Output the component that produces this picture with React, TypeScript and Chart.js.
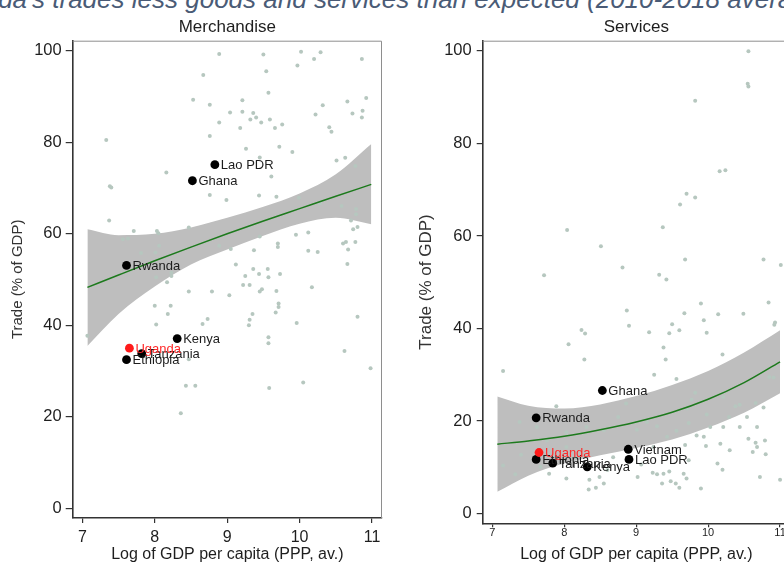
import React, { useEffect, useRef } from "react";
import { Chart, registerables } from "chart.js";

Chart.register(...registerables);

// ---------- shared ----------
const xTicks = [7, 8, 9, 10, 11];
const yTicks = [0, 20, 40, 60, 80, 100];
const bannerText = "Uganda's trades less goods and services than expected (2010-2018 average)";
const xTitle = "Log of GDP per capita (PPP, av.)";
const yTitle = "Trade (% of GDP)";

// ---------- Merchandise ----------
const merchX = [
  8.89, 9.5, 10.02, 10.29, 10.2, 9.97, 10.86, 9.54, 8.67, 9.57, 8.53, 8.76, 9.21, 10.92, 10.66, 10.32,
  9.04, 9.21, 9.36, 9.4, 9.32, 9.47, 9.59, 8.89, 9.18, 9.66, 9.76, 10.22, 10.73, 10.87, 10.86, 10.41,
  10.44, 7.33, 8.76, 9.26, 9.72, 9.9, 9.45, 10.51, 10.63, 10.77, 8.16, 9.61, 7.38, 7.4, 8.76, 8.99,
  9.44, 9.68, 9.99, 10.28, 10.58, 10.78, 10.78, 7.37, 10.71, 10.8, 10.74, 7.71, 8.03, 8.05, 7.56, 7.63,
  8.47, 9.3, 9.45, 9.95, 10.12, 10.6, 10.64, 10.77, 8.06, 8.89, 9.7, 9.7, 9.05, 9.37, 10.12, 10.25,
  10.67, 7.81, 8.01, 10.66, 9.12, 9.36, 9.44, 9.56, 9.57, 8.02, 8.23, 8.23, 8.17, 9.25, 9.73, 9.22,
  9.31, 9.48, 9.45, 9.68, 10.17, 8.47, 8.79, 9.03, 8.0, 8.22, 8.18, 9.71, 9.71, 9.67, 9.35, 9.31,
  8.73, 8.66, 8.02, 9.3, 9.96, 10.8, 7.07, 9.57, 9.57, 10.62, 8.47, 10.98, 8.43, 8.56, 9.58, 10.05, 8.36,
];
const merchY = [
  99.3, 99.2, 99.8, 99.7, 98.2, 96.8, 98.2, 95.5, 94.7, 90.8, 89.3, 88.2, 89.2, 89.7, 88.9, 88.1,
  86.5, 86.7, 86.4, 85.4, 85.0, 84.3, 85.0, 84.3, 83.1, 83.1, 83.9, 86.1, 86.3, 86.9, 85.4, 83.3,
  82.3, 80.5, 81.4, 78.6, 79.0, 77.9, 76.7, 76.0, 76.6, 74.8, 73.4, 72.5, 70.4, 70.1, 68.5, 67.4,
  68.4, 68.1, 67.9, 66.7, 66.1, 65.4, 64.3, 62.9, 62.9, 61.5, 61.0, 60.6, 60.6, 60.1, 58.8, 59.0,
  61.4, 61.4, 59.4, 59.8, 60.3, 57.9, 58.2, 58.2, 57.4, 57.4, 57.9, 57.1, 56.7, 56.4, 56.3, 56.0,
  56.6, 55.8, 55.9, 53.4, 53.3, 52.3, 51.2, 52.3, 50.5, 50.5, 50.8, 51.5, 49.4, 50.8, 51.2, 48.8,
  48.8, 47.9, 47.4, 47.5, 48.3, 47.4, 47.4, 46.6, 44.3, 44.3, 42.5, 44.8, 44.0, 42.8, 42.5, 41.2,
  41.4, 40.3, 40.2, 40.0, 40.5, 41.9, 37.7, 37.4, 36.1, 34.4, 32.6, 30.6, 26.8, 26.8, 26.3, 27.5, 20.8,
];
const merchFitX = [7.07, 7.5, 8.0, 8.5, 9.0, 9.5, 10.0, 10.5, 10.99];
const merchFit = [48.3, 51.0, 54.1, 57.1, 60.0, 62.8, 65.5, 68.2, 70.8];
const merchUpper = [61.0, 59.7, 60.0, 61.4, 63.5, 65.9, 68.8, 73.0, 79.6];
const merchLower = [35.5, 42.5, 48.5, 53.3, 56.6, 59.6, 62.2, 63.5, 62.1];
const merchNames = ["Lao PDR", "Ghana", "Rwanda", "Kenya", "Tanzania", "Ethiopia"];
const merchHX = [8.83, 8.52, 7.61, 8.31, 7.82, 7.61];
const merchHY = [75.1, 71.6, 53.1, 37.1, 33.8, 32.5];
const merchUganda = { name: "Uganda", x: 7.65, y: 35.0 };

// ---------- Services ----------
const servX = [
  10.56, 10.55, 10.56, 9.82, 10.16, 10.24, 9.7, 9.61, 9.82, 9.37, 8.04, 8.51, 9.68, 10.77, 11.01, 8.81,
  7.72, 9.32, 9.42, 9.9, 10.84, 8.87, 9.67, 9.94, 10.14, 10.49, 10.93, 10.92, 8.24, 8.29, 8.9, 9.5,
  9.46, 9.18, 9.6, 9.98, 9.38, 8.06, 8.28, 9.41, 10.2, 7.15, 9.56, 10.85, 10.91, 9.25, 9.82, 7.89,
  7.38, 10.38, 10.44, 10.66, 10.77, 10.29, 9.98, 9.71, 9.77, 10.21, 10.54, 10.68, 10.44, 10.21, 9.73, 9.56,
  9.43, 9.29, 9.01, 9.15, 8.86, 8.75, 8.55, 8.31, 8.03, 7.62, 7.76, 7.4, 7.15, 7.32, 7.79, 8.03,
  8.17, 8.34, 8.44, 8.35, 8.49, 8.55, 8.6, 9.02, 9.07, 9.23, 9.29, 9.36, 9.38, 9.46, 9.48, 9.55,
  9.6, 9.66, 9.7, 9.73, 9.68, 9.9, 9.97, 10.13, 10.2, 10.3, 10.56, 10.62, 10.66, 10.68, 10.79, 10.8,
  10.72, 11.0, 10.17, 9.94, 10.03, 9.84, 9.24, 8.87, 8.68, 8.03, 7.67,
];
const servY = [
  99.9, 92.9, 92.3, 89.2, 74.0, 74.2, 69.1, 66.8, 68.3, 61.9, 61.3, 57.8, 54.9, 54.9, 53.7, 53.2,
  51.5, 51.6, 50.6, 45.4, 45.6, 43.9, 43.3, 41.8, 43.1, 43.2, 41.3, 40.8, 39.7, 38.9, 40.6, 40.9,
  39.0, 39.2, 39.6, 39.1, 35.9, 36.6, 33.3, 33.3, 34.4, 30.8, 29.1, 29.5, 29.4, 30.0, 26.1, 23.2,
  19.8, 23.2, 23.5, 23.9, 22.9, 20.9, 21.4, 22.7, 24.6, 25.2, 20.9, 18.7, 18.7, 18.7, 19.6, 17.9,
  16.6, 18.9, 18.1, 19.8, 23.8, 20.9, 18.0, 18.7, 17.6, 18.7, 15.8, 12.7, 10.4, 8.5, 8.6, 7.6,
  12.2, 5.2, 5.6, 7.3, 7.9, 6.5, 9.4, 7.9, 10.6, 8.8, 8.5, 6.5, 8.6, 9.1, 7.0, 6.5,
  5.6, 8.6, 7.6, 11.5, 14.8, 5.4, 14.6, 10.8, 9.5, 13.7, 16.2, 13.3, 15.3, 14.4, 15.8, 12.8,
  7.9, 7.3, 15.1, 16.6, 18.7, 16.9, 14.4, 13.7, 12.2, 14.4, 10.1,
];
const servFitX = [7.07, 7.5, 8.0, 8.5, 9.0, 9.5, 10.0, 10.5, 11.0];
const servFit = [15.0, 15.7, 16.7, 18.1, 19.8, 21.9, 24.7, 28.3, 32.8];
const servUpper = [25.3, 23.3, 22.7, 23.6, 25.4, 27.8, 30.8, 34.8, 39.6];
const servLower = [4.7, 8.2, 10.8, 12.6, 14.2, 16.0, 18.6, 21.8, 26.0];
const servNames = ["Ghana", "Rwanda", "Ethiopia", "Tanzania", "Kenya", "Vietnam", "Lao PDR"];
const servHX = [8.53, 7.61, 7.61, 7.84, 8.32, 8.89, 8.9];
const servHY = [26.6, 20.7, 11.7, 10.9, 10.1, 13.9, 11.7];
const servUganda = { name: "Uganda", x: 7.65, y: 13.2 };

const FONT = "'Liberation Sans', Arial, sans-serif";

type PanelCfg = {
  title: string;
  x: number[];
  y: number[];
  fitX: number[];
  fit: number[];
  upper: number[];
  lower: number[];
  names: string[];
  hx: number[];
  hy: number[];
  uganda: { name: string; x: number; y: number };
  left: number;
  width: number;
  padRight: number;
  yAxisWidth: number;
  xAxisHeight: number;
  xTickSize: number;
  xTickLen: number;
  xTickPad: number;
  yTickLen: number;
  yTickPad: number;
  yTitleSize: number;
  yTitlePad: number;
};

const pts = (xs: number[], ys: number[]) => xs.map((x, i) => ({ x, y: ys[i] }));

function Panel({ cfg }: { cfg: PanelCfg }) {
  const ref = useRef<HTMLCanvasElement | null>(null);
  useEffect(() => {
    if (!ref.current) return;
    const labelPlugin = {
      id: "labelsAndFrame",
      afterDatasetsDraw(chart: any) {
        const { ctx, chartArea, scales } = chart;
        ctx.save();
        // frame (top / right)
        ctx.strokeStyle = "#8e8e8e";
        ctx.lineWidth = 1;
        ctx.beginPath();
        ctx.moveTo(chartArea.left, chartArea.top + 0.5);
        ctx.lineTo(chartArea.right - 0.5, chartArea.top + 0.5);
        ctx.lineTo(chartArea.right - 0.5, chartArea.bottom);
        ctx.stroke();
        // point labels
        ctx.font = `13px ${FONT}`;
        ctx.textBaseline = "middle";
        ctx.textAlign = "left";
        ctx.fillStyle = "#1c1c1c";
        cfg.names.forEach((n, i) => {
          const px = scales.x.getPixelForValue(cfg.hx[i]);
          const py = scales.y.getPixelForValue(cfg.hy[i]);
          ctx.fillText(n, px + 6, py + 1);
        });
        ctx.fillStyle = "#ff2a2a";
        ctx.fillText(
          cfg.uganda.name,
          scales.x.getPixelForValue(cfg.uganda.x) + 6,
          scales.y.getPixelForValue(cfg.uganda.y) + 1
        );
        // panel title
        ctx.fillStyle = "#1e1e1e";
        ctx.font = `17px ${FONT}`;
        ctx.textAlign = "center";
        ctx.textBaseline = "alphabetic";
        ctx.fillText(cfg.title, (chartArea.left + chartArea.right) / 2, 32.3);
        ctx.restore();
      },
    };
    const chart = new Chart(ref.current, {
      type: "line",
      data: {
        datasets: [
          {
            data: pts(cfg.fitX, cfg.lower),
            borderColor: "rgba(0,0,0,0)",
            borderWidth: 0,
            pointRadius: 0,
            fill: false,
            cubicInterpolationMode: "monotone",
            order: 6,
          },
          {
            data: pts(cfg.fitX, cfg.upper),
            borderColor: "rgba(0,0,0,0)",
            borderWidth: 0,
            pointRadius: 0,
            fill: "-1",
            backgroundColor: "#bebebe",
            cubicInterpolationMode: "monotone",
            order: 5,
          },
          {
            data: pts(cfg.x, cfg.y),
            showLine: false,
            pointRadius: 2,
            pointBackgroundColor: "#b6c7bf",
            pointBorderWidth: 0,
            pointBorderColor: "rgba(0,0,0,0)",
            order: 4,
          },
          {
            data: pts(cfg.fitX, cfg.fit),
            borderColor: "#1d7a1d",
            borderWidth: 1.5,
            pointRadius: 0,
            fill: false,
            cubicInterpolationMode: "monotone",
            order: 3,
          },
          {
            data: pts(cfg.hx, cfg.hy),
            showLine: false,
            pointRadius: 4.4,
            pointBackgroundColor: "#000000",
            pointBorderWidth: 0,
            pointBorderColor: "rgba(0,0,0,0)",
            order: 1,
          },
          {
            data: [{ x: cfg.uganda.x, y: cfg.uganda.y }],
            showLine: false,
            pointRadius: 4.4,
            pointBackgroundColor: "#ff1a1a",
            pointBorderWidth: 0,
            pointBorderColor: "rgba(0,0,0,0)",
            order: 0,
          },
        ],
      },
      options: {
        animation: false,
        responsive: false,
        events: [],
        layout: { padding: { left: 0, top: 40.7, right: cfg.padRight, bottom: 0 } },
        plugins: {
          legend: { display: false },
          tooltip: { enabled: false },
          title: { display: false },
        },
        scales: {
          x: {
            type: "linear",
            min: 6.867,
            max: 11.138,
            afterBuildTicks: (s: any) => {
              s.ticks = xTicks.map((v) => ({ value: v }));
            },
            afterFit: (s: any) => {
              s.height = cfg.xAxisHeight;
              s.paddingLeft = 0;
              s.paddingRight = 0;
            },
            grid: {
              display: true,
              drawOnChartArea: false,
              drawTicks: true,
              tickLength: cfg.xTickLen,
              color: "#333333",
              lineWidth: 1.2,
            },
            border: { display: true, color: "#333333", width: 1.6 },
            ticks: {
              autoSkip: false,
              maxRotation: 0,
              padding: cfg.xTickPad,
              color: "#1e1e1e",
              font: { family: FONT, size: cfg.xTickSize },
            },
            title: {
              display: true,
              text: xTitle,
              color: "#1e1e1e",
              padding: 0,
              font: { family: FONT, size: 16, lineHeight: 1 },
            },
          },
          y: {
            type: "linear",
            min: -2.1,
            max: 102.2,
            afterBuildTicks: (s: any) => {
              s.ticks = yTicks.map((v) => ({ value: v }));
            },
            afterFit: (s: any) => {
              s.width = cfg.yAxisWidth;
              s.paddingTop = 0;
              s.paddingBottom = 0;
            },
            grid: {
              display: true,
              drawOnChartArea: false,
              drawTicks: true,
              tickLength: cfg.yTickLen,
              color: "#333333",
              lineWidth: 1.2,
            },
            border: { display: true, color: "#333333", width: 1.6 },
            ticks: {
              padding: cfg.yTickPad,
              color: "#1e1e1e",
              font: { family: FONT, size: 16.5 },
            },
            title: {
              display: true,
              text: yTitle,
              color: "#333333",
              padding: { top: cfg.yTitlePad, bottom: 0 },
              font: { family: FONT, size: cfg.yTitleSize, lineHeight: 1 },
            },
          },
        },
      } as any,
      plugins: [labelPlugin],
    });
    return () => chart.destroy();
  }, [cfg]);
  return (
    <canvas
      ref={ref}
      width={cfg.width}
      height={563}
      style={{ position: "absolute", left: cfg.left, top: 0, width: cfg.width, height: 563 }}
    />
  );
}

const merchCfg: PanelCfg = {
  title: "Merchandise",
  x: merchX,
  y: merchY,
  fitX: merchFitX,
  fit: merchFit,
  upper: merchUpper,
  lower: merchLower,
  names: merchNames,
  hx: merchHX,
  hy: merchHY,
  uganda: merchUganda,
  left: 0,
  width: 400,
  padRight: 18,
  yAxisWidth: 72.7,
  xAxisHeight: 45,
  xTickSize: 16,
  xTickLen: 5,
  xTickPad: 5,
  yTickLen: 7,
  yTickPad: 4,
  yTitleSize: 15,
  yTitlePad: 10.5,
};

const servCfg: PanelCfg = {
  title: "Services",
  x: servX,
  y: servY,
  fitX: servFitX,
  fit: servFit,
  upper: servUpper,
  lower: servLower,
  names: servNames,
  hx: servHX,
  hy: servHY,
  uganda: servUganda,
  left: 400,
  width: 400,
  padRight: 10,
  yAxisWidth: 82.7,
  xAxisHeight: 39.7,
  xTickSize: 11,
  xTickLen: 4,
  xTickPad: -1,
  yTickLen: 6,
  yTickPad: 5,
  yTitleSize: 17,
  yTitlePad: 18.2,
};

export default function App() {
  return (
    <div
      style={{
        position: "fixed",
        left: 0,
        top: 0,
        width: 784,
        height: 563,
        overflow: "hidden",
        background: "#ffffff",
      }}
    >
      <span
        style={{
          position: "absolute",
          left: -64,
          top: -14.5,
          fontFamily: FONT,
          fontStyle: "italic",
          fontSize: 26,
          lineHeight: "26px",
          color: "#4a5b76",
          whiteSpace: "nowrap",
        }}
      >
        {bannerText}
      </span>
      <Panel cfg={merchCfg} />
      <Panel cfg={servCfg} />
    </div>
  );
}
